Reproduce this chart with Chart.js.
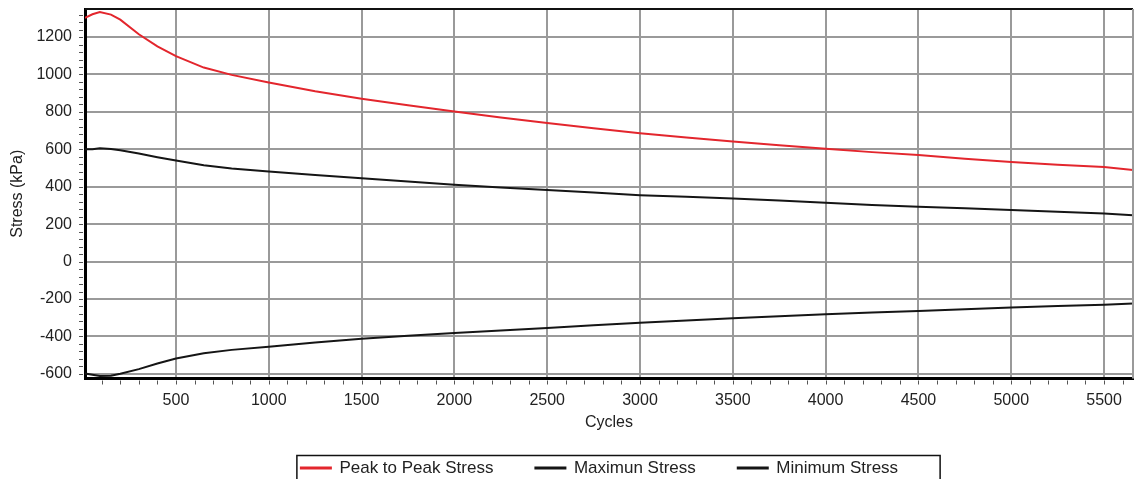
<!DOCTYPE html>
<html>
<head>
<meta charset="utf-8">
<script src="https://cdn.jsdelivr.net/npm/chart.js@4"></script>
<style>
  html, body { margin: 0; padding: 0; background: #fff; }
  #wrap { width: 1140px; height: 479px; }
</style>
</head>
<body>
<div id="wrap"><canvas id="stressChart"></canvas></div>
<script>
const cycles = [10, 50, 90, 150, 200, 300, 400, 500, 650, 800, 1000, 1250, 1500, 1750, 2000,
    2250, 2500, 2750, 3000, 3250, 3500, 3750, 4000, 4250, 4500, 4750, 5000, 5250, 5500, 5656];
const peakToPeak = [1302, 1322, 1334, 1320, 1293, 1215, 1150, 1098, 1037, 998, 957, 910, 870, 835, 802,
    770, 741, 712, 686, 663, 642, 622, 603, 585, 569, 550, 532, 518, 505, 490];
const maxStress = [600, 601, 606, 602, 595, 578, 558, 540, 515, 498, 482, 463, 446, 428, 410,
    396, 383, 369, 355, 346, 337, 326, 314, 303, 293, 285, 276, 266, 257, 248];
const minStress = [-598, -605, -612, -610, -600, -575, -545, -518, -490, -472, -455, -433, -413, -397, -382,
    -368, -355, -341, -327, -315, -303, -292, -281, -272, -264, -255, -246, -238, -231, -224];
const xTickValues = [500, 1000, 1500, 2000, 2500, 3000, 3500, 4000, 4500, 5000, 5500];
const yTickValues = [-600, -400, -200, 0, 200, 400, 600, 800, 1000, 1200];

const toPoints = vals => vals.map((v, i) => ({ x: cycles[i], y: v }));
const font = { family: '"Liberation Sans", Arial, sans-serif', size: 16 };

// minor ticks, frame edges and the box round the legend
const frameAndTicks = {
    id: 'frameAndTicks',
    afterLayout(chart) {
        const lg = chart.legend;
        lg.left += 33; lg.right += 33;
        lg.top -= 24; lg.bottom -= 24;
    },
    afterDraw(chart) {
        const { ctx, chartArea: a, scales: { x, y } } = chart;
        ctx.save();
        ctx.strokeStyle = '#555';
        ctx.lineWidth = 1;
        ctx.beginPath();
        for (let v = 100; v <= x.max; v += 100) {
            const px = Math.round(x.getPixelForValue(v)) + 0.5;
            ctx.moveTo(px, a.bottom + 2);
            ctx.lineTo(px, a.bottom + 6);
        }
        for (let v = -600; v <= y.max; v += 40) {
            const py = Math.round(y.getPixelForValue(v)) + 0.5;
            ctx.moveTo(a.left - 6, py);
            ctx.lineTo(a.left - 2, py);
        }
        ctx.stroke();

        ctx.strokeStyle = '#111';
        ctx.lineWidth = 2;
        ctx.beginPath();
        ctx.moveTo(a.left, a.top);
        ctx.lineTo(a.right, a.top);
        ctx.stroke();
        ctx.strokeStyle = '#9a9a9a';
        ctx.beginPath();
        ctx.moveTo(a.right, a.top);
        ctx.lineTo(a.right, a.bottom);
        ctx.stroke();

        const boxes = chart.legend.legendHitBoxes;
        if (boxes && boxes.length) {
            const first = boxes[0], last = boxes[boxes.length - 1];
            const left = first.left - 4;
            const right = last.left + last.width + 42;
            const top = first.top - 4;
            ctx.strokeStyle = '#111';
            ctx.lineWidth = 1.5;
            ctx.strokeRect(left, top, right - left, first.height + 8);
        }
        ctx.restore();
    }
};

const ctx = document.getElementById('stressChart').getContext('2d');
new Chart(ctx, {
    type: 'line',
    data: {
        datasets: [{
            label: 'Peak to Peak Stress',
            data: toPoints(peakToPeak),
            borderColor: '#e3262d',
            backgroundColor: '#e3262d',
            borderWidth: 2
        }, {
            label: 'Maximun Stress',
            data: toPoints(maxStress),
            borderColor: '#151515',
            backgroundColor: '#151515',
            borderWidth: 2
        }, {
            label: 'Minimum Stress',
            data: toPoints(minStress),
            borderColor: '#151515',
            backgroundColor: '#151515',
            borderWidth: 2
        }]
    },
    options: {
        responsive: true,
        maintainAspectRatio: false,
        animation: false,
        elements: { point: { radius: 0 }, line: { tension: 0 } },
        layout: { padding: { top: 9, right: 7, bottom: -31.5, left: 0 } },
        plugins: {
            tooltip: { enabled: false },
            legend: {
                position: 'bottom',
                labels: {
                    font: { family: font.family, size: 17 },
                    color: '#222',
                    boxWidth: 30,
                    boxHeight: 1,
                    padding: 42
                }
            }
        },
        scales: {
            x: {
                type: 'linear',
                min: 10,
                max: 5656,
                afterBuildTicks: s => { s.ticks = xTickValues.map(v => ({ value: v })); },
                afterFit: s => { s.height = 63; s.paddingLeft = 0; s.paddingRight = 0; },
                grid: { color: '#9a9a9a', lineWidth: 2, drawTicks: false },
                border: { color: '#000', width: 3 },
                ticks: { font: font, color: '#222', padding: 12, maxRotation: 0, callback: v => String(v) },
                title: { display: true, text: 'Cycles', font: font, color: '#222', padding: { top: 4, bottom: 9 } }
            },
            y: {
                min: -625,
                max: 1350,
                afterBuildTicks: s => { s.ticks = yTickValues.map(v => ({ value: v })); },
                afterFit: s => { s.width = 85; s.paddingTop = 0; s.paddingBottom = 0; },
                grid: { color: '#9a9a9a', lineWidth: 2, drawTicks: false },
                border: { color: '#000', width: 3 },
                ticks: { font: font, color: '#222', padding: 13, callback: v => String(v) },
                title: { display: true, text: 'Stress (kPa)', font: font, color: '#222', padding: { top: 8, bottom: 4 } }
            }
        }
    },
    plugins: [frameAndTicks]
});
</script>
</body>
</html>
